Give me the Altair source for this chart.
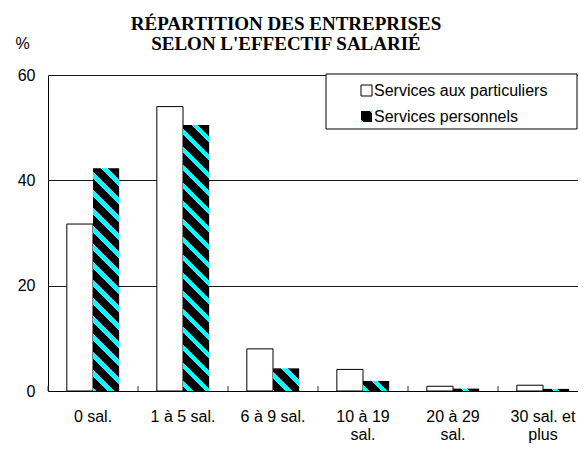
import altair as alt

# ---------------- data ----------------
categories = ["0 sal.", "1 à 5 sal.", "6 à 9 sal.", "10 à 19|sal.", "20 à 29|sal.", "30 sal. et|plus"]
series = ["Services aux particuliers", "Services personnels"]
particuliers = [31.7, 54.0, 8.0, 4.1, 0.9, 1.1]
personnels = [42.3, 50.5, 4.3, 1.9, 0.45, 0.4]
y_ticks = [0, 20, 40, 60]
title_lines = ["RÉPARTITION DES ENTREPRISES", "SELON L'EFFECTIF SALARIÉ"]

# ---------------- layout / style ----------------
W, H = 530, 316          # plot area (page is only 586 px wide, 8 px margins)
X_RANGE = 540            # category bands run slightly past the drawn plot edge, as in the reference
YMAX = 60
OFFSET_PAD = 0.72
BAR_W = (X_RANGE / len(categories)) / (2 + 2 * OFFSET_PAD)
STRIPE_PERIOD = 18.0
CYAN_FRAC = 0.35
BLACK = "#000000"
CYAN = "#00FFFF"
FONT = "Liberation Sans"


def stripes(w, h):
    """Black fill with cyan diagonal ('\\') stripes at 45 degrees for a w x h box."""
    c = (w + h) / (w * w + h * h)
    x2 = 1 - w * c
    y2 = h * c
    p = STRIPE_PERIOD / (w + h)
    stops = []
    i = 0
    while True:
        s = i * p
        a = s + (1 - CYAN_FRAC) * p
        e = s + p
        for off, col in [(s, BLACK), (a, BLACK), (a, CYAN), (e, CYAN)]:
            if off <= 1:
                stops.append({"offset": round(off, 5), "color": col})
        if e >= 1:
            break
        i += 1
    return {"gradient": "linear", "x1": 1, "y1": 0, "x2": round(x2, 5), "y2": round(y2, 5), "stops": stops}


rows = []
for i, cat in enumerate(categories):
    rows.append({"cat": cat, "series": series[0], "value": particuliers[i]})
    rows.append({"cat": cat, "series": series[1], "value": personnels[i],
                 "grad": stripes(BAR_W, personnels[i] * H / YMAX)})
bar_data = alt.Data(values=rows)
cat_data = alt.Data(values=[{"cat": c} for c in categories])
one = alt.Data(values=[{"k": 1}])

x_enc = alt.X(
    "cat:N", sort=categories,
    scale=alt.Scale(paddingInner=0, paddingOuter=0, range=[0, X_RANGE]),
    axis=alt.Axis(title=None, labelExpr="split(datum.label, '|')", labelAngle=0,
                  labelFont=FONT, labelFontSize=16, labelColor="black",
                  labelLineHeight=18, labelPadding=17, ticks=False, tickSize=0,
                  domainColor="black", domainWidth=1, labelLimit=200),
)
xoff_enc = alt.XOffset("series:N", sort=series,
                       scale=alt.Scale(domain=series, paddingOuter=OFFSET_PAD, paddingInner=0))
y_enc = alt.Y(
    "value:Q", stack=None,
    scale=alt.Scale(domain=[0, YMAX], nice=False),
    axis=alt.Axis(values=y_ticks, title="%", titleAngle=0, titleAlign="left",
                  titleBaseline="alphabetic", titleX=-33, titleY=-27,
                  titleFont=FONT, titleFontSize=16, titleFontWeight="normal", titleColor="black",
                  labelFont=FONT, labelFontSize=16, labelColor="black", labelPadding=13,
                  ticks=False, tickSize=0, grid=True, gridColor="#1a1a1a", gridWidth=1,
                  domainColor="black", domainWidth=1),
)

white_bars = alt.Chart(bar_data).transform_filter(alt.datum.series == series[0]).mark_bar(
    fill="white", stroke="black", strokeWidth=1
).encode(x=x_enc, xOffset=xoff_enc, y=y_enc)

pattern_bars = alt.Chart(bar_data).transform_filter(alt.datum.series == series[1]).mark_bar(
    strokeWidth=0
).encode(x=x_enc, xOffset=xoff_enc, y=y_enc, fill=alt.Fill("grad:N", scale=None))

ticks = alt.Chart(cat_data).mark_rule(color="#333333", strokeWidth=1).encode(
    x=alt.X("cat:N", sort=categories, bandPosition=0),
    y=alt.value(H), y2=alt.value(H - 5),
)

title = alt.Chart(one).mark_text(
    text=title_lines, font="Liberation Serif", fontSize=19, fontWeight="bold",
    align="center", baseline="alphabetic", lineHeight=20, color="black",
).encode(x=alt.value(238), y=alt.value(-45))

# legend (drawn by hand so the patterned swatch can be shown)
leg_box = alt.Chart(one).mark_rect(fill="white", stroke="black", strokeWidth=1).encode(
    x=alt.value(278), x2=alt.value(529), y=alt.value(-1), y2=alt.value(54))
leg_sym1 = alt.Chart(one).mark_rect(fill="white", stroke="black", strokeWidth=1).encode(
    x=alt.value(313), x2=alt.value(324), y=alt.value(10), y2=alt.value(21))
sym_grad = {"gradient": "linear", "x1": 1, "y1": 0, "x2": 0, "y2": 1, "stops": [
    {"offset": 0, "color": CYAN}, {"offset": 0.12, "color": CYAN},
    {"offset": 0.12, "color": BLACK}, {"offset": 0.88, "color": BLACK},
    {"offset": 0.88, "color": CYAN}, {"offset": 1, "color": CYAN}]}
leg_sym2 = alt.Chart(one).mark_rect(fill=sym_grad, strokeWidth=0).encode(
    x=alt.value(313), x2=alt.value(324), y=alt.value(36), y2=alt.value(47))
leg_txt1 = alt.Chart(one).mark_text(
    text=series[0], font=FONT, fontSize=16, align="left", baseline="middle", color="black"
).encode(x=alt.value(326), y=alt.value(16))
leg_txt2 = alt.Chart(one).mark_text(
    text=series[1], font=FONT, fontSize=16, align="left", baseline="middle", color="black"
).encode(x=alt.value(326), y=alt.value(42))

chart = alt.layer(
    white_bars, pattern_bars, ticks, title,
    leg_box, leg_sym1, leg_sym2, leg_txt1, leg_txt2,
).properties(
    width=W, height=H,
    autosize=alt.AutoSizeParams(type="none"),
    padding={"left": 40, "top": 67, "right": 0, "bottom": 52},
    background="white",
).configure_view(strokeWidth=0).configure(font=FONT)

chart.save("out.html", embed_options={"renderer": "svg", "actions": False})
